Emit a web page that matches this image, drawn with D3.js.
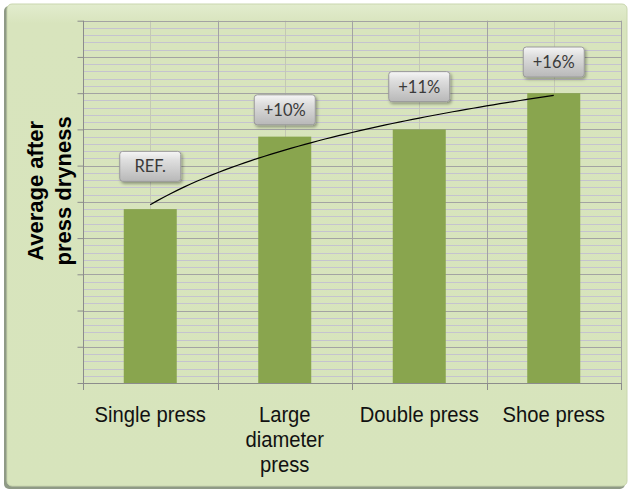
<!DOCTYPE html>
<html>
<head>
<meta charset="utf-8">
<script src="https://cdn.jsdelivr.net/npm/d3@7"></script>
<style>
  html, body { margin: 0; padding: 0; background: #ffffff; }
  svg { display: block; }
</style>
</head>
<body>
<svg id="chart" width="629" height="493"></svg>
<script>
// Press configurations and their average after-press dryness (axis units)
const categories = ["Single press", "Large diameter press", "Double press", "Shoe press"];
const categoryLines = [["Single press"], ["Large", "diameter", "press"], ["Double press"], ["Shoe press"]];
const dryness = [24, 34, 35, 40];
const gainLabels = ["REF.", "+10%", "+11%", "+16%"];
// Vertical level (axis units) of each callout box centre
const calloutLevel = [29.9, 37.7, 40.9, 44.3];
const yDomain = [0, 50];
const majorStep = 5;
const minorStep = 1;

const W = 629, H = 493;
const plot = { left: 83, right: 621, top: 20.7, bottom: 383 };

const svg = d3.select("#chart");
const defs = svg.append("defs");

// frame gradient and shadow
const bgGrad = defs.append("linearGradient").attr("id", "bgGrad")
  .attr("x1", 0).attr("y1", 0).attr("x2", 0).attr("y2", 1);
bgGrad.append("stop").attr("offset", 0).attr("stop-color", "#e2ecce");
bgGrad.append("stop").attr("offset", 0.04).attr("stop-color", "#d8e4bd");
bgGrad.append("stop").attr("offset", 1).attr("stop-color", "#d7e4bc");

const boxGrad = defs.append("linearGradient").attr("id", "boxGrad")
  .attr("x1", 0).attr("y1", 0).attr("x2", 0).attr("y2", 1);
boxGrad.append("stop").attr("offset", 0).attr("stop-color", "#f6f6f6");
boxGrad.append("stop").attr("offset", 0.3).attr("stop-color", "#dedede");
boxGrad.append("stop").attr("offset", 1).attr("stop-color", "#b8b8b8");

const shadow = defs.append("filter").attr("id", "boxShadow")
  .attr("x", "-20%").attr("y", "-20%").attr("width", "150%").attr("height", "160%");
shadow.append("feDropShadow").attr("dx", 1.5).attr("dy", 2).attr("stdDeviation", 1.5)
  .attr("flood-color", "#000").attr("flood-opacity", 0.35);

// outer chart frame with a soft bevel
svg.append("rect").attr("x", 4).attr("y", 6).attr("width", W - 8).attr("height", H - 10)
  .attr("rx", 5).attr("fill", "#8f9a86");
svg.append("rect").attr("x", 7).attr("y", 4).attr("width", W - 9).attr("height", H - 11)
  .attr("rx", 5).attr("fill", "url(#bgGrad)").attr("stroke", "#c9d6ae").attr("stroke-width", 1);

const x = d3.scaleBand().domain(categories).range([plot.left, plot.right])
  .paddingInner(0).paddingOuter(0);
const y = d3.scaleLinear().domain(yDomain).range([plot.bottom, plot.top]);

// minor horizontal grid
const minorTicks = d3.range(yDomain[0], yDomain[1] + 0.001, minorStep)
  .filter(v => Math.abs(v % majorStep) > 1e-9);
svg.append("g").selectAll("line").data(minorTicks).join("line")
  .attr("x1", plot.left).attr("x2", plot.right)
  .attr("y1", d => Math.round(y(d)) + 0.5).attr("y2", d => Math.round(y(d)) + 0.5)
  .attr("stroke", "#c5c3cf").attr("stroke-width", 1);

// vertical centre lines in each category
svg.append("g").selectAll("line").data(categories).join("line")
  .attr("x1", d => Math.round(x(d) + x.bandwidth() / 2) + 0.5)
  .attr("x2", d => Math.round(x(d) + x.bandwidth() / 2) + 0.5)
  .attr("y1", plot.top).attr("y2", plot.bottom)
  .attr("stroke", "#c3c8b4").attr("stroke-width", 1);

// major horizontal grid
const majorTicks = d3.range(yDomain[0] + majorStep, yDomain[1] + 0.001, majorStep);
svg.append("g").selectAll("line").data(majorTicks).join("line")
  .attr("x1", plot.left).attr("x2", plot.right)
  .attr("y1", d => Math.round(y(d)) + 0.5).attr("y2", d => Math.round(y(d)) + 0.5)
  .attr("stroke", "#a3a3a3").attr("stroke-width", 1);

// category boundary lines
svg.append("g").selectAll("line").data(categories).join("line")
  .attr("x1", d => Math.round(x(d) + x.bandwidth()) + 0.5)
  .attr("x2", d => Math.round(x(d) + x.bandwidth()) + 0.5)
  .attr("y1", plot.top).attr("y2", plot.bottom)
  .attr("stroke", "#a3a3a3").attr("stroke-width", 1);

// left axis with outward ticks, no labels
const yAxis = d3.axisLeft(y).tickValues(d3.range(yDomain[0], yDomain[1] + 0.001, majorStep))
  .tickSize(6).tickFormat("");
const gy = svg.append("g").attr("transform", `translate(${plot.left + 0.5},0)`).call(yAxis);
gy.selectAll("path,line").attr("stroke", "#8c8c8c");
gy.select(".domain").attr("d", `M0,${plot.top}V${plot.bottom}`);

// bars
const barW = x.bandwidth() * 0.394;
svg.append("g").selectAll("rect").data(dryness).join("rect")
  .attr("x", (d, i) => x(categories[i]) + (x.bandwidth() - barW) / 2)
  .attr("y", d => y(d))
  .attr("width", barW)
  .attr("height", d => y(0) - y(d))
  .attr("fill", "#89a54e");

// bottom axis with ticks at category boundaries
const gx = svg.append("g");
gx.append("line").attr("x1", plot.left).attr("x2", plot.right)
  .attr("y1", plot.bottom + 0.5).attr("y2", plot.bottom + 0.5).attr("stroke", "#8c8c8c");
const bounds = [plot.left].concat(categories.map(c => x(c) + x.bandwidth()));
gx.selectAll("line.tick").data(bounds).join("line").attr("class", "tick")
  .attr("x1", d => Math.round(d) + 0.5).attr("x2", d => Math.round(d) + 0.5)
  .attr("y1", plot.bottom).attr("y2", plot.bottom + 7).attr("stroke", "#8c8c8c");

// category labels (slightly condensed sans)
const labelFont = "'Liberation Sans', Arial, sans-serif";
const squeeze = 0.92;
categoryLines.forEach((lines, i) => {
  const cx = x(categories[i]) + x.bandwidth() / 2;
  const t = svg.append("text").attr("text-anchor", "middle")
    .attr("transform", `translate(${cx},0) scale(${squeeze},1)`)
    .attr("font-family", labelFont).attr("font-size", 22).attr("fill", "#111");
  lines.forEach((ln, j) => {
    t.append("tspan").attr("x", 0).attr("y", 422 + j * 25).text(ln);
  });
});

// logarithmic trendline fitted to the bars
const lx = dryness.map((d, i) => Math.log(i + 1));
const mx = d3.mean(lx), my = d3.mean(dryness);
const slope = d3.sum(lx, (v, i) => (v - mx) * (dryness[i] - my)) / d3.sum(lx, v => (v - mx) ** 2);
const icpt = my - slope * mx;
const xPos = k => plot.left + (k - 0.5) * x.bandwidth();
const trendPts = d3.range(1, 4.0001, 0.05).map(k => [xPos(k), y(icpt + slope * Math.log(k))]);
svg.append("path").attr("d", d3.line()(trendPts))
  .attr("fill", "none").attr("stroke", "#000").attr("stroke-width", 1.2);

// callout boxes
const boxW = 61, boxH = 30;
const callouts = svg.append("g").selectAll("g").data(gainLabels).join("g")
  .attr("transform", (d, i) => `translate(${x(categories[i]) + x.bandwidth() / 2},${y(calloutLevel[i])})`);
callouts.append("rect")
  .attr("x", -boxW / 2).attr("y", -boxH / 2).attr("width", boxW).attr("height", boxH)
  .attr("rx", 3).attr("fill", "url(#boxGrad)").attr("stroke", "#9a9a9a").attr("stroke-width", 1)
  .attr("filter", "url(#boxShadow)");
callouts.append("text").attr("text-anchor", "middle").attr("dy", "0.36em")
  .attr("font-family", "Lato, 'Open Sans', sans-serif").attr("font-size", 16.5)
  .attr("fill", "#3a3a3a").text(d => d);

// y-axis title
const yt = svg.append("text")
  .attr("transform", `translate(0,${(plot.top + plot.bottom) / 2 - 11}) rotate(-90)`)
  .attr("text-anchor", "middle").attr("font-family", "'Liberation Sans', Arial, sans-serif")
  .attr("font-weight", "bold").attr("font-size", 22).attr("fill", "#000");
yt.append("tspan").attr("x", 0).attr("y", 43).text("Average after");
yt.append("tspan").attr("x", 0).attr("y", 71).text("press dryness");
</script>
</body>
</html>
